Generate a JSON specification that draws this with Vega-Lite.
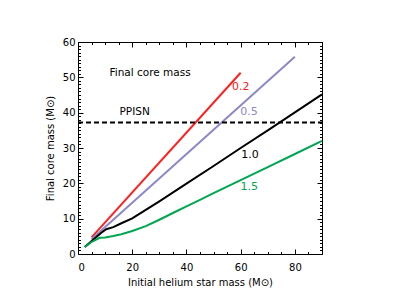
{
  "$schema": "https://vega.github.io/schema/vega-lite/v6.json",
  "width": 244,
  "height": 212,
  "autosize": "none",
  "padding": {"left": 78, "top": 42, "right": 77, "bottom": 54},
  "config": {
    "view": {"stroke": "black", "strokeWidth": 1},
    "font": "DejaVu Sans",
    "axis": {"grid": false, "domain": false, "tickColor": "black", "labelColor": "black", "titleColor": "black", "labelFont": "DejaVu Sans", "titleFont": "DejaVu Sans", "labelFontSize": 10, "titleFontSize": 10, "titleFontWeight": "normal", "tickWidth": 1}
  },
  "datasets": {
    "curves": [
      {"series": "0.2", "mass": 5, "core": 4.7},
      {"series": "0.2", "mass": 60, "core": 51.3},
      {"series": "0.5", "mass": 5, "core": 4.2},
      {"series": "0.5", "mass": 80, "core": 55.8},
      {"series": "1.0", "mass": 2.5, "core": 2.0},
      {"series": "1.0", "mass": 6, "core": 4.3},
      {"series": "1.0", "mass": 8.6, "core": 6.0},
      {"series": "1.0", "mass": 10.4, "core": 7.0},
      {"series": "1.0", "mass": 13, "core": 7.6},
      {"series": "1.0", "mass": 16, "core": 8.7},
      {"series": "1.0", "mass": 20, "core": 10.1},
      {"series": "1.0", "mass": 25, "core": 12.5},
      {"series": "1.0", "mass": 30, "core": 14.9},
      {"series": "1.0", "mass": 40, "core": 19.9},
      {"series": "1.0", "mass": 50, "core": 24.9},
      {"series": "1.0", "mass": 60, "core": 30.0},
      {"series": "1.0", "mass": 70, "core": 35.0},
      {"series": "1.0", "mass": 80, "core": 40.1},
      {"series": "1.0", "mass": 90, "core": 45.2},
      {"series": "1.5", "mass": 2.5, "core": 2.0},
      {"series": "1.5", "mass": 5, "core": 3.4},
      {"series": "1.5", "mass": 8, "core": 4.6},
      {"series": "1.5", "mass": 10, "core": 4.7},
      {"series": "1.5", "mass": 13, "core": 5.1},
      {"series": "1.5", "mass": 16, "core": 5.6},
      {"series": "1.5", "mass": 20, "core": 6.5},
      {"series": "1.5", "mass": 25, "core": 7.9},
      {"series": "1.5", "mass": 30, "core": 9.7},
      {"series": "1.5", "mass": 35, "core": 11.6},
      {"series": "1.5", "mass": 40, "core": 13.5},
      {"series": "1.5", "mass": 45, "core": 15.3},
      {"series": "1.5", "mass": 50, "core": 17.2},
      {"series": "1.5", "mass": 60, "core": 20.9},
      {"series": "1.5", "mass": 70, "core": 24.6},
      {"series": "1.5", "mass": 80, "core": 28.3},
      {"series": "1.5", "mass": 90, "core": 32.0}
    ],
    "ppisn": [
      {"mass": 0, "core": 37.2},
      {"mass": 90, "core": 37.2}
    ],
    "labels": [
      {"series": "0.2", "mass": 60.0, "core": 47.4},
      {"series": "0.5", "mass": 63.1, "core": 40.3},
      {"series": "1.0", "mass": 63.4, "core": 28.0},
      {"series": "1.5", "mass": 63.2, "core": 18.9}
    ],
    "notes": [
      {"text": "Final core mass", "mass": 26.6, "core": 51.3},
      {"text": "PPISN", "mass": 20.9, "core": 40.1}
    ]
  },
  "resolve": {"axis": {"x": "independent", "y": "independent"}},
  "layer": [
    {
      "data": {"name": "curves"},
      "mark": {"type": "line", "strokeWidth": 2},
      "encoding": {
        "x": {"field": "mass", "type": "quantitative", "scale": {"domain": [0, 90], "nice": false, "zero": false},
              "axis": {"orient": "bottom", "values": [0, 20, 40, 60, 80], "tickSize": -5, "labelPadding": 13, "title": "Initial helium star mass (M⊙)", "titlePadding": 5}},
        "y": {"field": "core", "type": "quantitative", "scale": {"domain": [0, 60], "nice": false, "zero": false},
              "axis": {"orient": "left", "values": [0, 10, 20, 30, 40, 50, 60], "tickSize": -5, "labelPadding": 8, "title": "Final core mass (M⊙)", "titlePadding": 7}},
        "color": {"field": "series", "type": "nominal", "scale": {"domain": ["0.2", "0.5", "1.0", "1.5"], "range": ["#ff2020", "#8c88c8", "#000000", "#00a651"]}, "legend": null},
        "detail": {"field": "series"}
      }
    },
    {
      "data": {"name": "ppisn"},
      "mark": {"type": "line", "strokeWidth": 2, "strokeDash": [5, 3], "color": "black"},
      "encoding": {
        "x": {"field": "mass", "type": "quantitative", "scale": {"domain": [0, 90], "nice": false, "zero": false},
              "axis": {"orient": "bottom", "values": [0, 5, 10, 15, 20, 25, 30, 35, 40, 45, 50, 55, 60, 65, 70, 75, 80, 85, 90], "tickSize": -2.5, "labels": false, "title": null}},
        "y": {"field": "core", "type": "quantitative", "scale": {"domain": [0, 60], "nice": false, "zero": false},
              "axis": {"orient": "left", "values": [0,1,2,3,4,5,6,7,8,9,10,11,12,13,14,15,16,17,18,19,20,21,22,23,24,25,26,27,28,29,30,31,32,33,34,35,36,37,38,39,40,41,42,43,44,45,46,47,48,49,50,51,52,53,54,55,56,57,58,59,60], "tickSize": -2.5, "labels": false, "title": null}}
      }
    },
    {
      "data": {"name": "labels"},
      "mark": {"type": "text", "fontSize": 11, "font": "DejaVu Sans"},
      "encoding": {
        "x": {"field": "mass", "type": "quantitative", "scale": {"domain": [0, 90], "nice": false, "zero": false},
              "axis": {"orient": "top", "values": [0, 20, 40, 60, 80], "tickSize": -5, "labels": false, "title": null}},
        "y": {"field": "core", "type": "quantitative", "scale": {"domain": [0, 60], "nice": false, "zero": false},
              "axis": {"orient": "right", "values": [0, 10, 20, 30, 40, 50, 60], "tickSize": -5, "labels": false, "title": null}},
        "text": {"field": "series"},
        "color": {"field": "series", "type": "nominal", "legend": null}
      }
    },
    {
      "data": {"name": "notes"},
      "mark": {"type": "text", "fontSize": 10.5, "font": "DejaVu Sans", "color": "black"},
      "encoding": {
        "x": {"field": "mass", "type": "quantitative", "scale": {"domain": [0, 90], "nice": false, "zero": false},
              "axis": {"orient": "top", "values": [0, 5, 10, 15, 20, 25, 30, 35, 40, 45, 50, 55, 60, 65, 70, 75, 80, 85, 90], "tickSize": -2.5, "labels": false, "title": null}},
        "y": {"field": "core", "type": "quantitative", "scale": {"domain": [0, 60], "nice": false, "zero": false},
              "axis": {"orient": "right", "values": [0,1,2,3,4,5,6,7,8,9,10,11,12,13,14,15,16,17,18,19,20,21,22,23,24,25,26,27,28,29,30,31,32,33,34,35,36,37,38,39,40,41,42,43,44,45,46,47,48,49,50,51,52,53,54,55,56,57,58,59,60], "tickSize": -2.5, "labels": false, "title": null}},
        "text": {"field": "text"}
      }
    }
  ]
}
